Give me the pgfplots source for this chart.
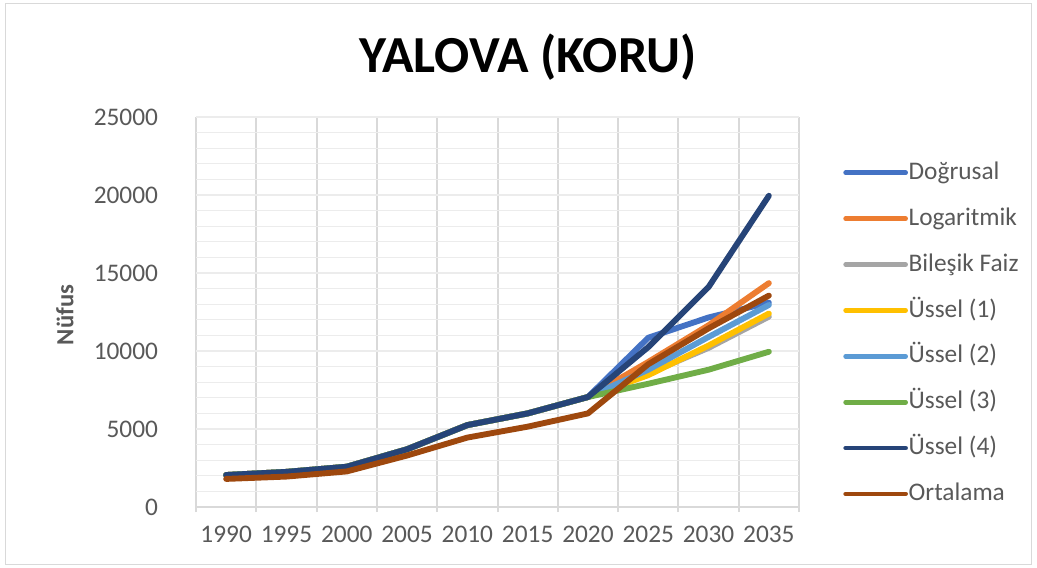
\documentclass[border=0pt]{standalone}
\usepackage{pgfplots}
\pgfplotsset{compat=1.18}
\usepackage{fontspec}
\setmainfont{Carlito}
\definecolor{cDog}{HTML}{4472C4}
\definecolor{cLog}{HTML}{ED7D31}
\definecolor{cBil}{HTML}{A5A5A5}
\definecolor{cUs1}{HTML}{FFC000}
\definecolor{cUs2}{HTML}{5B9BD5}
\definecolor{cUs3}{HTML}{70AD47}
\definecolor{cUs4}{HTML}{264478}
\definecolor{cOrt}{HTML}{9E480E}
\definecolor{txt}{HTML}{595959}
\definecolor{gridv}{HTML}{D9D9D9}
\definecolor{gridh}{HTML}{ECECEC}
\begin{document}
\begin{tikzpicture}
\path[use as bounding box] (0pt,0pt) rectangle (777.75pt,425.25pt);
\draw[gridv, line width=0.75pt] (3.75pt,2.25pt) rectangle (773.25pt,422.25pt);
\node[anchor=base] at (396pt,370.5pt) {\bfseries\fontsize{39}{46}\selectfont YALOVA (KORU)};
\node[rotate=90, text=txt] at (48.75pt,189pt) {\bfseries\fontsize{18.5}{22}\selectfont Nüfus};
\begin{axis}[
  at={(147pt,45pt)}, anchor=south west,
  scale only axis, width=452.25pt, height=292.5pt,
  xmin=-0.5, xmax=9.5, ymin=0, ymax=25000,
  axis x line*=bottom, axis y line*=left,
  x axis line style={draw=gridv, line width=1.5pt, -},
  y axis line style={draw=none},
  xtick={0,...,9},
  xticklabels={1990,1995,2000,2005,2010,2015,2020,2025,2030,2035},
  minor xtick={-0.5,0.5,...,9.5},
  ytick={0,5000,...,25000},
  minor ytick={1000,2000,...,24000},
  scaled y ticks=false,
  major tick length=0pt,
  minor tick length=3.75pt,
  tick align=outside,
  xmajorgrids=false, xminorgrids=true,
  ymajorgrids=true, yminorgrids=true,
  minor x grid style={gridv, line width=1.5pt},
  major y grid style={gridh, line width=1pt},
  minor y grid style={gridh, line width=1pt},
  x tick style={draw=none},
  minor x tick style={draw=gridv, line width=1.5pt},
  y tick style={draw=none},
  minor y tick style={draw=none},
  /pgf/number format/1000 sep={},
  /pgf/number format/assume math mode=true,
  tick label style={font=\fontsize{19}{23}\selectfont, text=txt},
  yticklabel style={xshift=-25pt},
  xticklabel style={yshift=-11pt},
  legend cell align=left,
  legend style={at={(1.073,0.89)}, anchor=north west, draw=none, fill=none,
    font=\fontsize{19}{23}\selectfont, text=txt, inner sep=0pt,
    row sep=15.4pt, column sep=0pt,
    nodes={inner sep=0.5pt, text height=14pt, text depth=4pt}},
  legend image code/.code={\draw[#1, line width=3.5pt, line cap=round] (0pt,0pt) -- (45pt,0pt);},
  every axis plot/.append style={line width=4.4pt, line join=round, line cap=round, mark=none},
]
\addplot[cDog] coordinates {(0,2050) (1,2250) (2,2580) (3,3700) (4,5250) (5,6000) (6,7050) (7,10850) (8,12150) (9,13100)};
\addlegendentry{Doğrusal}
\addplot[cLog] coordinates {(0,2050) (1,2250) (2,2580) (3,3700) (4,5250) (5,6000) (6,7050) (7,9300) (8,11650) (9,14350)};
\addlegendentry{Logaritmik}
\addplot[cBil] coordinates {(0,2050) (1,2250) (2,2580) (3,3700) (4,5250) (5,6000) (6,7050) (7,8550) (8,10200) (9,12200)};
\addlegendentry{Bileşik Faiz}
\addplot[cUs1] coordinates {(0,2050) (1,2250) (2,2580) (3,3700) (4,5250) (5,6000) (6,7050) (7,8450) (8,10350) (9,12400)};
\addlegendentry{Üssel (1)}
\addplot[cUs2] coordinates {(0,2050) (1,2250) (2,2580) (3,3700) (4,5250) (5,6000) (6,7050) (7,8800) (8,10900) (9,12950)};
\addlegendentry{Üssel (2)}
\addplot[cUs3] coordinates {(0,2050) (1,2250) (2,2580) (3,3700) (4,5250) (5,6000) (6,7050) (7,7900) (8,8800) (9,9950)};
\addlegendentry{Üssel (3)}
\addplot[cUs4] coordinates {(0,2050) (1,2250) (2,2580) (3,3700) (4,5250) (5,6000) (6,7050) (7,10250) (8,14100) (9,19950)};
\addlegendentry{Üssel (4)}
\addplot[cOrt] coordinates {(0,1800) (1,1950) (2,2280) (3,3300) (4,4450) (5,5150) (6,6000) (7,9150) (8,11450) (9,13550)};
\addlegendentry{Ortalama}
\end{axis}
\end{tikzpicture}
\end{document}
